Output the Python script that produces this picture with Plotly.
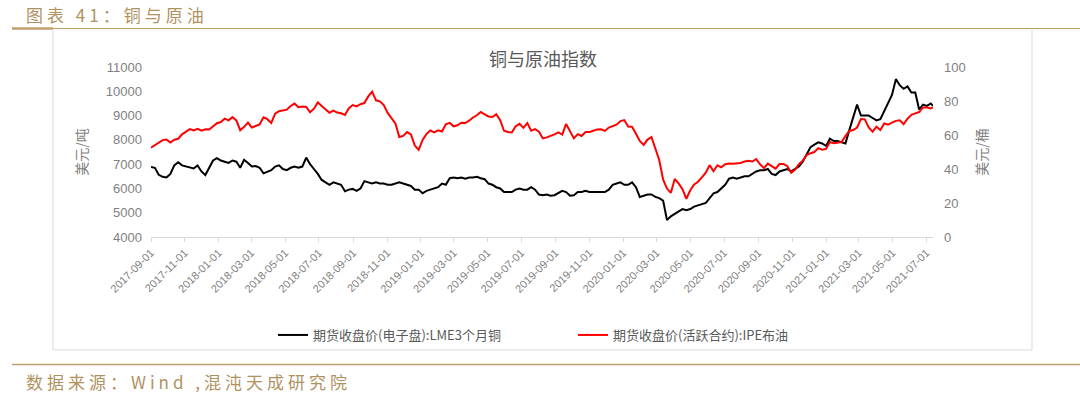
import pandas as pd
import plotly.graph_objects as go

# ---- data (weekly readings, 2017-09-01 .. 2021-07-13) ----
start_date = "2017-09-01"
copper = [
    6880, 6850, 6560, 6480, 6450, 6600, 6950, 7080, 6950, 6900, 6880, 6820, 6950, 6700, 6550, 6850, 7150, 7250,
    7150, 7100, 7050, 7150, 7100, 6850, 7180, 7050, 6900, 6920, 6850, 6620, 6700, 6750, 6900, 6950, 6800, 6750,
    6850, 6900, 6850, 6900, 7270, 7000, 6800, 6600, 6350, 6250, 6150, 6250, 6200, 6150, 5880, 5950, 5980, 5900,
    6000, 6300, 6250, 6200, 6250, 6200, 6200, 6150, 6150, 6200, 6250, 6200, 6150, 6100, 5950, 5950,
    5800, 5900, 5950, 6000, 6050, 6200, 6150, 6420, 6450, 6420, 6450, 6400, 6450, 6450, 6480, 6420, 6380, 6200,
    6150, 6050, 6000, 5850, 5850, 5850, 5950, 6000, 5950, 5950, 6050, 5950, 5750, 5720, 5750, 5700, 5720, 5800,
    5900, 5850, 5700, 5720, 5850, 5850, 5900, 5850, 5850, 5850, 5850, 5850, 5950, 6150, 6200, 6250,
    6150, 6150, 6250, 6050, 5650, 5700, 5750, 5750, 5650, 5600, 5500, 4700, 4850, 4950, 5050, 5150, 5100, 5150,
    5250, 5300, 5350, 5400, 5600, 5800, 5850, 6000, 6150, 6400, 6450, 6400, 6450, 6500, 6500, 6600, 6700, 6750,
    6750, 6800, 6600, 6550, 6700, 6750, 6800, 6700, 6800, 6900, 7100, 7400, 7700, 7800, 7900, 7850,
    7750, 8050, 7950, 7950, 7900, 7850, 8400, 8900, 9450, 9000, 9000, 9000, 8900, 8800, 8850, 9200, 9550, 9850,
    10500, 10250, 10100, 10200, 9950, 9950, 9250, 9450, 9400, 9500, 9400,
]
brent = [
    52.5, 54.0, 55.5, 57.0, 57.3, 55.6, 57.2, 57.8, 60.4, 62.1, 63.5, 62.7, 63.6, 62.5, 63.4, 63.2, 65.2, 66.9,
    67.6, 69.6, 68.6, 70.5, 68.6, 62.8, 64.8, 67.3, 64.4, 65.5, 66.2, 70.4, 69.3, 67.1, 72.6, 74.0, 74.6, 74.9,
    77.1, 78.5, 76.4, 76.8, 76.5, 73.4, 75.5, 79.2, 77.1, 75.3, 73.1, 74.3, 73.2, 72.8, 71.8, 75.8, 77.6, 76.8,
    78.1, 78.8, 82.7, 85.5, 80.4, 79.8, 77.6, 73.0, 70.2, 66.8, 58.8, 59.5, 61.7, 60.3, 53.8, 51.2,
    57.1, 60.5, 62.7, 61.6, 62.8, 62.1, 66.3, 67.1, 65.1, 65.7, 67.2, 67.0, 68.4, 70.3, 71.6, 73.5, 72.2, 70.9,
    70.6, 72.2, 68.7, 62.5, 61.8, 61.5, 65.2, 66.6, 64.2, 67.0, 62.5, 63.5, 61.9, 58.0, 58.6, 59.3, 60.4, 61.5,
    60.2, 66.5, 61.9, 58.0, 60.5, 59.4, 61.7, 61.7, 62.5, 63.3, 63.4, 62.4, 64.4, 65.2, 66.1, 68.2,
    68.8, 65.0, 64.9, 60.7, 56.5, 54.2, 57.3, 58.8, 51.5, 45.3, 33.9, 28.5, 26.0, 34.1, 31.5, 28.1, 22.5, 27.5,
    30.9, 32.5, 35.1, 37.8, 42.3, 38.7, 42.2, 41.0, 42.8, 43.2, 43.1, 43.3, 43.5, 44.4, 44.8, 44.4, 45.8, 42.7,
    40.5, 43.2, 41.9, 40.2, 42.9, 42.9, 41.8, 37.8, 39.5, 42.8, 44.9, 48.2, 49.3, 50.0, 52.3, 51.3,
    51.8, 55.9, 55.1, 55.4, 55.9, 59.3, 62.4, 62.9, 64.4, 69.4, 69.2, 64.5, 62.0, 64.9, 63.0, 66.8, 66.1, 67.3,
    68.3, 68.7, 66.4, 69.6, 71.9, 72.7, 73.5, 76.2, 76.2, 75.6, 76.5,
]
dates = list(pd.date_range(start_date, periods=len(copper) - 1, freq="7D")) + [pd.Timestamp("2021-07-13")]

tick_dates = list(pd.date_range("2017-09-01", "2021-07-01", freq="2MS"))
tick_text = [d.strftime("%Y-%m-%d") for d in tick_dates]

name_cu = "期货收盘价(电子盘):LME3个月铜"
name_oil = "期货收盘价(活跃合约):IPE布油"
title_text = "铜与原油指数"
header_text = "图表 41：铜与原油"
footer_text = "数据来源：Wind ,混沌天成研究院"

# ---- layout geometry (pixels) ----
W, H = 1080, 396
L, R, T, B = 151, 933, 67, 237


def px(x):
    return (x - L) / (R - L)


def py(y):
    return (B - y) / (B - T)


FONT = "Liberation Sans, Noto Sans CJK SC, sans-serif"
CJK = "Noto Sans CJK SC, sans-serif"
GOLD_TXT = "#b0925f"
GOLD_LINE = "#c0a06a"
GRAY = "#7f7f7f"

fig = go.Figure()
fig.add_trace(go.Scatter(x=dates, y=copper, name=name_cu, mode="lines",
                         line=dict(color="#000000", width=2), yaxis="y"))
fig.add_trace(go.Scatter(x=dates, y=brent, name=name_oil, mode="lines",
                         line=dict(color="#ff0000", width=2), yaxis="y2"))

fig.update_layout(
    width=W, height=H,
    margin=dict(l=L, r=W - R, t=T, b=H - B, pad=0),
    paper_bgcolor="white", plot_bgcolor="white",
    font=dict(family=FONT, color=GRAY, size=12),
    title=dict(text=title_text, x=px(543), xanchor="center", xref="paper",
               y=1 - 60 / H, yanchor="middle", yref="container",
               font=dict(family=CJK, size=18, color="#595959")),
    xaxis=dict(type="date", range=[dates[0], dates[-1]],
               tickvals=tick_dates, ticktext=tick_text, tickangle=-45,
               tickfont=dict(size=11, color=GRAY, family=FONT),
               showgrid=False, zeroline=False, showline=True, linecolor="#d9d9d9", linewidth=1,
               ticks="outside", ticklen=4, tickcolor="#d9d9d9"),
    yaxis=dict(range=[4000, 11000], dtick=1000, tickformat="d", showgrid=False, zeroline=False,
               showline=False, tickfont=dict(size=13, color=GRAY), ticklabelstandoff=8,
               title=dict(text="美元/吨", font=dict(family=CJK, size=14, color=GRAY), standoff=14)),
    yaxis2=dict(range=[0, 100], dtick=20, tickformat="d", overlaying="y", side="right", showgrid=False,
                zeroline=False, showline=False, tickfont=dict(size=13, color=GRAY), ticklabelstandoff=10,
                title=dict(text="美元/桶", font=dict(family=CJK, size=14, color=GRAY), standoff=12)),
    legend=dict(orientation="h", x=px(273), xanchor="left", y=py(335), yanchor="middle",
                font=dict(family=CJK, size=13, color="#595959"), entrywidth=255, entrywidthmode="pixels",
                bgcolor="rgba(0,0,0,0)", borderwidth=0, tracegroupgap=0),
    showlegend=True,
)

shapes = [
    dict(type="line", xref="paper", yref="paper", x0=px(12), x1=px(1080), y0=py(28.5), y1=py(28.5),
         line=dict(color=GOLD_LINE, width=1.2)),
    dict(type="line", xref="paper", yref="paper", x0=px(12), x1=px(53), y0=py(28.5), y1=py(28.5),
         line=dict(color=GOLD_LINE, width=2.5)),
    dict(type="line", xref="paper", yref="paper", x0=px(53), x1=px(53), y0=py(30), y1=py(350),
         line=dict(color="#d9d9d9", width=1)),
    dict(type="line", xref="paper", yref="paper", x0=px(1032), x1=px(1032), y0=py(30), y1=py(350),
         line=dict(color="#d9d9d9", width=1)),
    dict(type="line", xref="paper", yref="paper", x0=px(53), x1=px(1032), y0=py(350), y1=py(350),
         line=dict(color="#d9d9d9", width=1)),
    dict(type="line", xref="paper", yref="paper", x0=px(12), x1=px(1080), y0=py(364.5), y1=py(364.5),
         line=dict(color=GOLD_LINE, width=1.5)),
]
fig.update_layout(shapes=shapes)

fig.add_annotation(text='<span style="letter-spacing:4px">' + header_text + '</span>',
                   xref="paper", yref="paper", x=px(24), y=py(14),
                   xanchor="left", yanchor="middle", showarrow=False,
                   font=dict(family=CJK, size=17, color=GOLD_TXT))
fig.add_annotation(text='<span style="letter-spacing:4px">' + footer_text + '</span>',
                   xref="paper", yref="paper", x=px(24), y=py(381),
                   xanchor="left", yanchor="middle", showarrow=False,
                   font=dict(family=CJK, size=17, color=GOLD_TXT))

fig.write_html("out.html", config={"displayModeBar": False},
               post_script="document.body.style.margin='0';document.body.style.overflow='hidden';")
